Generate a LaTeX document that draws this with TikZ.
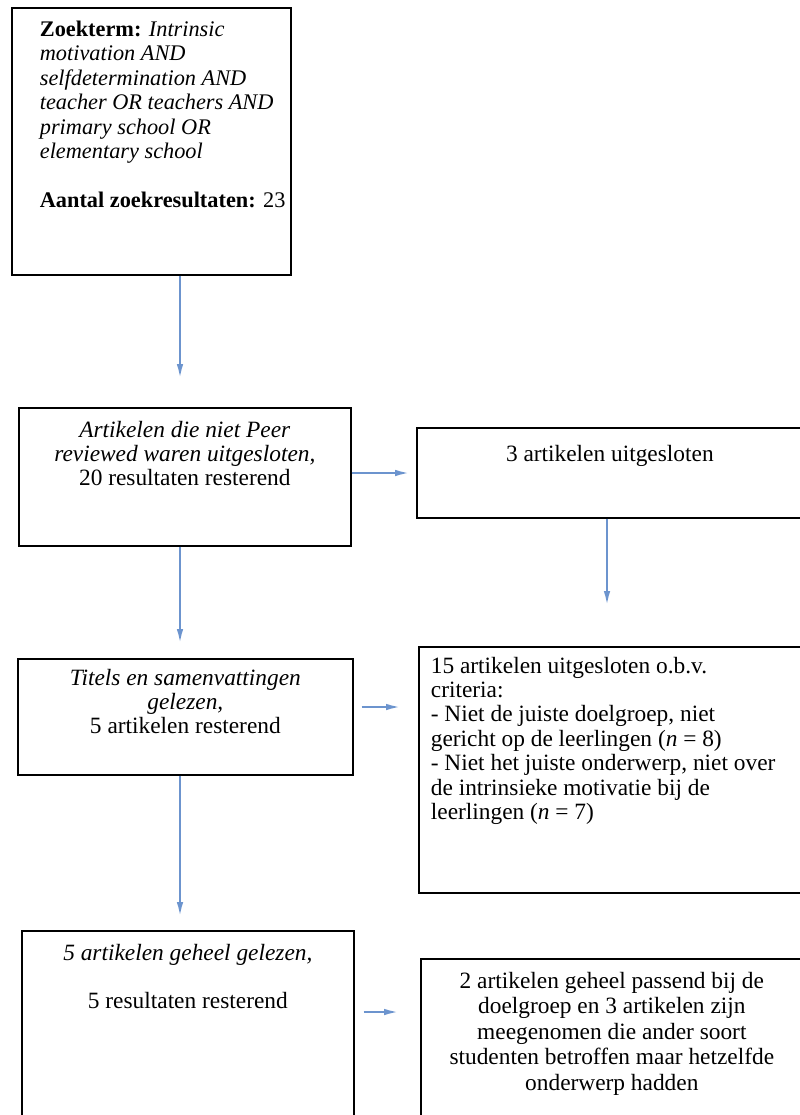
\documentclass[tikz,border=0pt]{standalone}
\usepackage{fontspec}
\setmainfont{Liberation Serif}
\usetikzlibrary{arrows.meta}
\definecolor{arrowblue}{RGB}{108,148,206}

\begin{document}
\begin{tikzpicture}
          [x=0.02cm, y=-0.02cm,
          font=\fontsize{13.3}{13.9}\selectfont,
          box/.style={shape=rectangle,draw=black,line width=1pt,anchor=north west,inner xsep=0.24cm,inner ysep=0.26cm},
          arc/.style={-{Latex[length=9pt,width=3.6pt]},line width=1.4pt,draw=arrowblue}]

          \useasboundingbox (0,0) rectangle (799,1115);

            \node (zoek) [box,inner xsep=0.04cm,font=\fontsize{12.7}{13.9}\selectfont] at (11,7)
              {\parbox[c][4.82cm][t]{5.5cm}{\raggedright\leftskip=0.52cm
                \textbf{Zoekterm:} \textit{Intrinsic}\\
                \textit{motivation AND}\\
                \textit{selfdetermination AND}\\
                \textit{teacher OR teachers AND}\\
                \textit{primary school OR}\\
                \textit{elementary school}\\[\baselineskip]
                \textbf{Aantal zoekresultaten:} 23}};
            \node (peer) [box] at (18,407)
              {\parbox[c][2.24cm][t]{6.16cm}{\centering
                \textit{Artikelen die niet Peer}\\
                \textit{reviewed waren uitgesloten,}\\
                20 resultaten resterend}};
            \node (drie) [box,inner ysep=0.34cm] at (416,427)
              {\parbox[c][1.12cm][t]{7.24cm}{\centering 3 artikelen uitgesloten}};
            \node (titels) [box,inner ysep=0.2cm] at (17,658)
              {\parbox[c][1.92cm][t]{6.22cm}{\centering
                \textit{Titels en samenvattingen}\\
                \textit{gelezen,}\\
                5 artikelen resterend}};
            \node (vijftien) [box,inner ysep=0.2cm] at (418,646)
              {\parbox[c][4.52cm][t]{7.2cm}{\raggedright
                15 artikelen uitgesloten o.b.v.\\
                criteria:\\
                - Niet de juiste doelgroep, niet\\
                gericht op de leerlingen (\textit{n} = 8)\\
                - Niet het juiste onderwerp, niet over\\
                de intrinsieke motivatie bij de\\
                leerlingen (\textit{n} = 7)}};
            \node (gelezen) [box] at (21,930)
              {\parbox[c][3.38cm][t]{6.16cm}{\centering
                \textit{5 artikelen geheel gelezen,}\\[\baselineskip]
                5 resultaten resterend}};
            \node (passend) [box,font=\fontsize{13.3}{14.5}\selectfont] at (420,958)
              {\parbox[c][2.82cm][t]{7.16cm}{\centering
                2 artikelen geheel passend bij de\\
                doelgroep en 3 artikelen zijn\\
                meegenomen die ander soort\\
                studenten betroffen maar hetzelfde\\
                onderwerp hadden}};

          \coordinate (A1) at (180,380);
          \coordinate (A2) at (411,473);
          \coordinate (A3) at (607,607);
          \coordinate (A4) at (180,645);
          \coordinate (A5) at (402,707);
          \coordinate (A6) at (180,918);
          \coordinate (A7) at (400,1012);

          \draw [arc] (zoek.south -| A1) -- (A1);
            \draw [arc] (peer.east |- A2) -- (A2);
            \draw [arc] (drie.south -| A3) -- (A3);
            \draw [arc] (peer.south -| A4) -- (A4);
            \draw [arc,shorten <=0.16cm] (titels.east |- A5) -- (A5);
            \draw [arc] (titels.south -| A6) -- (A6);
            \draw [arc,shorten <=0.18cm] (gelezen.east |- A7) -- (A7);

        \end{tikzpicture}
\end{document}
